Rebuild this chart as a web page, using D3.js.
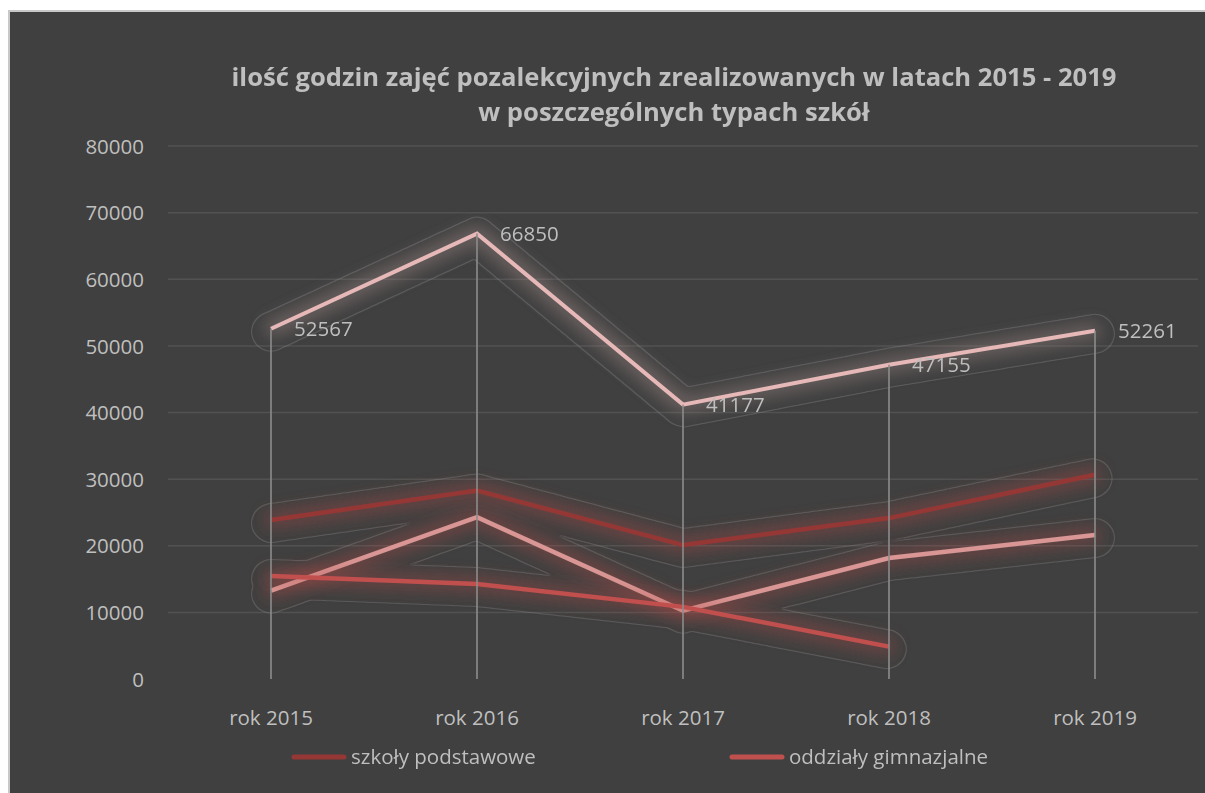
<!DOCTYPE html>
<html>
<head>
<meta charset="utf-8">
<script src="https://cdn.jsdelivr.net/npm/d3@7"></script>
<style>
  html, body { margin: 0; padding: 0; background: #ffffff; }
  svg { display: block; }
</style>
</head>
<body>
<svg id="chart" width="1205" height="793"></svg>
<script>
// ---- data ----
const categories = ["rok 2015", "rok 2016", "rok 2017", "rok 2018", "rok 2019"];
const totalValues = [52567, 66850, 41177, 47155, 52261];
const podstawoweValues = [23850, 28300, 20100, 24150, 30650];
const thirdValues = [13250, 24300, 10250, 18150, 21610];
const gimnazjalneValues = [15467, 14250, 10827, 4855, null];
const yTicks = [0, 10000, 20000, 30000, 40000, 50000, 60000, 70000, 80000];
const titleLines = ["ilość godzin zajęć pozalekcyjnych zrealizowanych w latach 2015 - 2019", "w poszczególnych typach szkół"];
const legendNames = ["szkoły podstawowe", "oddziały gimnazjalne"];

const series = [
  { name: "łącznie", values: totalValues, color: "#e6b9b8", width: 4, labels: true },
  { name: legendNames[0], values: podstawoweValues, color: "#953735", width: 4.5 },
  { name: "inne", values: thirdValues, color: "#d99694", width: 4.5 },
  { name: legendNames[1], values: gimnazjalneValues, color: "#c0504d", width: 4.5 }
];

const W = 1205, H = 793;
const svg = d3.select("#chart");
const FONT = "'Open Sans', 'Segoe UI', sans-serif";
const TXT = "#bfbfbf";

// frame
svg.append("rect").attr("x", 8).attr("y", 10).attr("width", W - 8).attr("height", H - 10).attr("fill", "#c8c8c8");
svg.append("rect").attr("x", 10).attr("y", 12).attr("width", W - 10).attr("height", H - 12).attr("fill", "#404040");

const defs = svg.append("defs");
function makeGlow(id, color, op) {
  const f = defs.append("filter").attr("id", id).attr("filterUnits", "userSpaceOnUse")
    .attr("x", 0).attr("y", 0).attr("width", W).attr("height", H);
  f.append("feMorphology").attr("in", "SourceAlpha").attr("operator", "dilate").attr("radius", 5).attr("result", "d");
  f.append("feGaussianBlur").attr("in", "d").attr("stdDeviation", 8).attr("result", "b");
  f.append("feFlood").attr("flood-color", color).attr("flood-opacity", op).attr("result", "c");
  f.append("feComposite").attr("in", "c").attr("in2", "b").attr("operator", "in").attr("result", "g");
  const m = f.append("feMerge");
  m.append("feMergeNode").attr("in", "g");
  m.append("feMergeNode").attr("in", "SourceGraphic");
}
makeGlow("glowPink", "#a08a88", 0.45);
makeGlow("glowRed", "#b84a47", 0.38);

// outline filter: thin ring around a thick stroke
const of = defs.append("filter").attr("id", "ring").attr("filterUnits", "userSpaceOnUse")
  .attr("x", 0).attr("y", 0).attr("width", W).attr("height", H);
of.append("feMorphology").attr("in", "SourceAlpha").attr("operator", "erode").attr("radius", 0.7).attr("result", "e");
of.append("feComposite").attr("in", "SourceAlpha").attr("in2", "e").attr("operator", "out").attr("result", "r");
of.append("feFlood").attr("flood-color", "#8a8a8a").attr("flood-opacity", 0.35).attr("result", "c");
of.append("feComposite").attr("in", "c").attr("in2", "r").attr("operator", "in");

// scales
const x = d3.scaleBand().domain(categories).range([168, 1198]);
const cx = c => x(c) + x.bandwidth() / 2;
const y = d3.scaleLinear().domain([0, 80000]).range([679, 146]);

// gridlines
svg.append("g").selectAll("line").data(yTicks.filter(t => t > 0)).join("line")
  .attr("x1", 168).attr("x2", 1198).attr("y1", d => y(d)).attr("y2", d => y(d))
  .attr("stroke", "#525252").attr("stroke-width", 1.5);

// y axis labels
const yAxis = d3.axisLeft(y).tickValues(yTicks).tickSize(0).tickPadding(0).tickFormat(d3.format("d"));
const gy = svg.append("g").attr("transform", "translate(144,0)").call(yAxis);
gy.select(".domain").remove();
gy.selectAll("text").attr("fill", TXT).attr("font-family", FONT).attr("font-size", 20.5).attr("dy", "0.35em");

// x axis labels
const xAxis = d3.axisBottom(x).tickSize(0).tickPadding(0);
const gx = svg.append("g").attr("transform", "translate(0,710)").call(xAxis);
gx.select(".domain").remove();
gx.selectAll("text").attr("fill", TXT).attr("font-family", FONT).attr("font-size", 20.5).attr("dy", "0.75em");

// line generator
const line = d3.line()
  .defined(d => d.v != null)
  .x(d => cx(d.c)).y(d => y(d.v));

// outlines
const gOut = svg.append("g").attr("filter", "url(#ring)");
series.forEach(s => {
  const pts = s.values.map((v, i) => ({ c: categories[i], v }));
  gOut.append("path").attr("d", line(pts)).attr("fill", "none").attr("stroke", "#fff")
    .attr("stroke-width", 40).attr("stroke-linejoin", "round").attr("stroke-linecap", "round")
    .attr("stroke-dasharray", "5 3")
    .attr("transform", "translate(0,3)");
});

// lines
series.forEach(s => {
  const pts = s.values.map((v, i) => ({ c: categories[i], v }));
  svg.append("path").attr("d", line(pts)).attr("fill", "none")
    .attr("stroke", s.color).attr("stroke-width", s.width)
    .attr("stroke-linejoin", "miter")
    .attr("filter", s.labels ? "url(#glowPink)" : "url(#glowRed)");
});

// drop lines
svg.append("g").selectAll("line").data(categories).join("line")
  .attr("x1", d => cx(d)).attr("x2", d => cx(d))
  .attr("y1", (d, i) => y(d3.max(series, s => s.values[i] == null ? 0 : s.values[i])))
  .attr("y2", y(0))
  .attr("stroke", "#8c8c8c").attr("stroke-width", 1.6);

// data labels
svg.append("g").selectAll("text").data(totalValues).join("text")
  .attr("x", (d, i) => cx(categories[i]) + 23)
  .attr("y", d => y(d))
  .attr("dy", "0.35em")
  .attr("fill", TXT).attr("font-family", FONT).attr("font-size", 20.5)
  .text(d => d);

// title
svg.append("g").selectAll("text").data(titleLines).join("text")
  .attr("x", 674).attr("y", (d, i) => 86 + i * 35)
  .attr("text-anchor", "middle")
  .attr("fill", TXT).attr("font-family", FONT).attr("font-weight", "bold").attr("font-size", 25.6)
  .text(d => d);

// legend
const legendItems = [
  { name: legendNames[0], color: series[1].color, x: 292 },
  { name: legendNames[1], color: series[3].color, x: 730 }
];
const gl = svg.append("g");
legendItems.forEach(it => {
  gl.append("line").attr("x1", it.x + 2).attr("x2", it.x + 52).attr("y1", 757).attr("y2", 757)
    .attr("stroke", it.color).attr("stroke-width", 5).attr("stroke-linecap", "round");
  gl.append("text").attr("x", it.x + 59).attr("y", 757).attr("dy", "0.35em")
    .attr("fill", TXT).attr("font-family", FONT).attr("font-size", 20.5).text(it.name);
});
</script>
</body>
</html>
